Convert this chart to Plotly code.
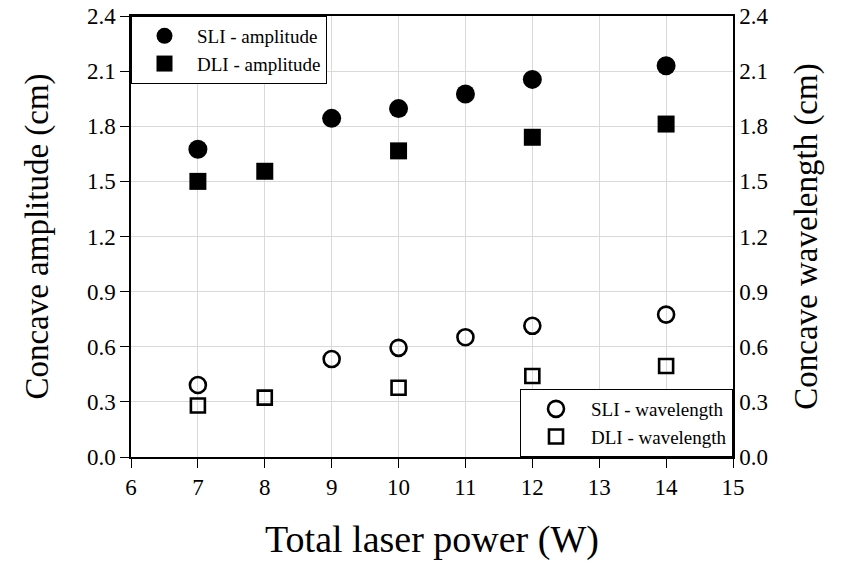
import plotly.graph_objects as go

power_sli = [7, 9, 10, 11, 12, 14]
power_dli = [7, 8, 10, 12, 14]
sli_amplitude = [1.675, 1.843, 1.896, 1.975, 2.055, 2.129]
dli_amplitude = [1.50, 1.555, 1.666, 1.740, 1.812]
sli_wavelength = [0.392, 0.533, 0.594, 0.652, 0.714, 0.775]
dli_wavelength = [0.280, 0.323, 0.377, 0.441, 0.495]

x_ticks = list(range(6, 16))
y_ticks = [0.0, 0.3, 0.6, 0.9, 1.2, 1.5, 1.8, 2.1, 2.4]
y_ticktext = [f"{v:.1f}" for v in y_ticks]

FONT = "Liberation Serif"

fig = go.Figure()
fig.add_trace(go.Scatter(x=power_sli, y=sli_amplitude, mode="markers", name="SLI - amplitude",
                         marker=dict(symbol="circle", size=19, color="black"), legend="legend"))
fig.add_trace(go.Scatter(x=power_dli, y=dli_amplitude, mode="markers", name="DLI - amplitude",
                         marker=dict(symbol="square", size=17, color="black"), legend="legend"))
fig.add_trace(go.Scatter(x=power_sli, y=sli_wavelength, mode="markers", name="SLI - wavelength",
                         yaxis="y2",
                         marker=dict(symbol="circle-open", size=16, color="black", line=dict(width=2.6, color="black")),
                         legend="legend2"))
fig.add_trace(go.Scatter(x=power_dli, y=dli_wavelength, mode="markers", name="DLI - wavelength",
                         yaxis="y2",
                         marker=dict(symbol="square-open", size=14, color="black", line=dict(width=2.6, color="black")),
                         legend="legend2"))

axis_common = dict(showline=True, linecolor="black", linewidth=1.5, gridcolor="#d9d9d9", gridwidth=1,
                   zeroline=False, automargin=False, tickfont=dict(family=FONT, size=23, color="black"))

fig.update_layout(
    width=841, height=565,
    margin=dict(l=130.5, r=108, t=15.5, b=107.5, autoexpand=False),
    paper_bgcolor="white", plot_bgcolor="white",
    font=dict(family=FONT, color="black"),
    xaxis=dict(range=[6, 15], tickvals=x_ticks, ticks="outside", ticklen=9, tickcolor="black",
               mirror=True, showgrid=True,
               title=dict(text="Total laser power (W)", font=dict(family=FONT, size=38), standoff=26),
               **axis_common),
    yaxis=dict(range=[0, 2.4], tickvals=y_ticks, ticktext=y_ticktext, ticks="outside", ticklen=9,
               tickcolor="black", mirror=True, showgrid=True,
               title=dict(text="Concave amplitude (cm)", font=dict(family=FONT, size=33), standoff=28),
               **axis_common),
    yaxis2=dict(range=[0, 2.4], tickvals=y_ticks, ticktext=y_ticktext, overlaying="y", side="right",
                ticks="", showgrid=False, automargin=False,
                title=dict(text="Concave wavelength (cm)", font=dict(family=FONT, size=33), standoff=26),
                showline=True, linecolor="black", linewidth=1.5, zeroline=False,
                tickfont=dict(family=FONT, size=23, color="black")),
    legend=dict(x=0, y=1, xanchor="left", yanchor="top", bgcolor="white", bordercolor="black",
                borderwidth=1, font=dict(family=FONT, size=19), tracegroupgap=0, itemwidth=55),
    legend2=dict(x=1, y=0, xanchor="right", yanchor="bottom", bgcolor="white", bordercolor="black",
                 borderwidth=1, font=dict(family=FONT, size=19), tracegroupgap=0, itemwidth=60),
    showlegend=True,
)

fig.write_html("out.html", config={"displayModeBar": False},
               post_script="document.body.style.margin='0';document.body.style.padding='0';")
